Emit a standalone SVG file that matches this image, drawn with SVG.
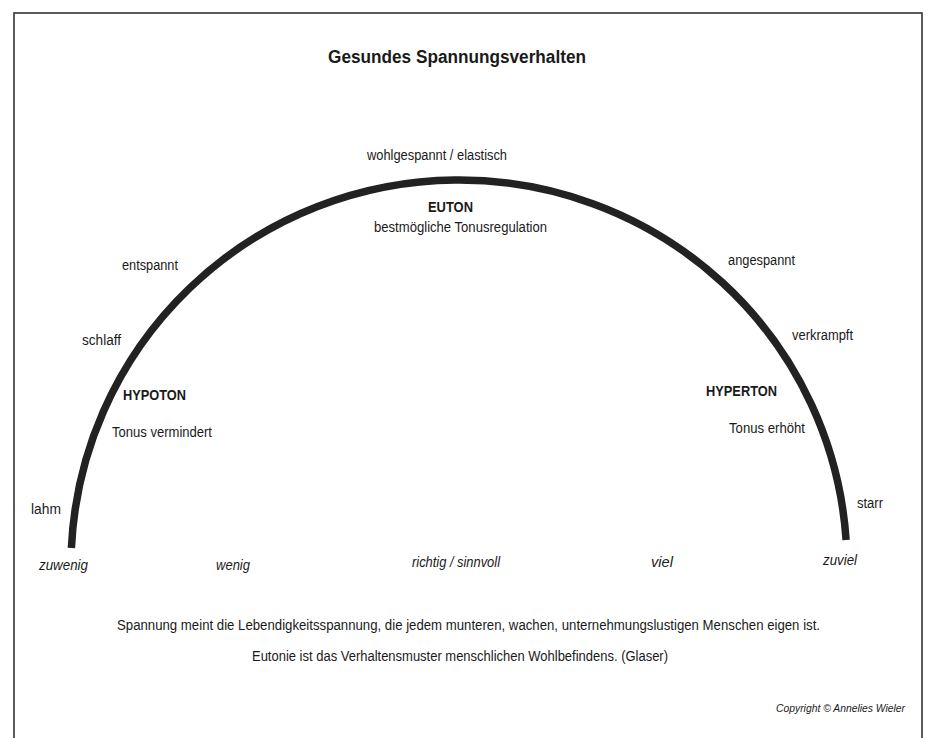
<svg xmlns="http://www.w3.org/2000/svg" width="928" height="738" viewBox="0 0 928 738">
  <style>
    text { font-family: "Liberation Sans", Arial, sans-serif; fill: #1a1a1a; }
    .lbl { font-size: 14px; }
    .b { font-size: 14px; font-weight: bold; }
    .it { font-size: 14px; font-style: italic; }
    .title { font-size: 18px; font-weight: bold; }
    .copy { font-size: 10px; font-style: italic; }
  </style>
  <rect width="928" height="738" fill="#ffffff"/>
  <rect id="frame" x="14" y="13" width="908" height="740" fill="none" stroke="#333333" stroke-width="1.6"/>
  <g id="title"><text class="title" x="328" y="63" textLength="258" lengthAdjust="spacingAndGlyphs">Gesundes Spannungsverhalten</text></g>
  <g id="connectors">
    <path id="arc" d="M 71.4 548 A 388 386 0 0 1 846.1 540" fill="none" stroke="#222222" stroke-width="7.5"/>
  </g>
  <g id="euton">
    <text class="lbl" x="367" y="160" textLength="140" lengthAdjust="spacingAndGlyphs">wohlgespannt / elastisch</text>
    <text class="b" x="428" y="212" textLength="45" lengthAdjust="spacingAndGlyphs">EUTON</text>
    <text class="lbl" x="374" y="232" textLength="173" lengthAdjust="spacingAndGlyphs">bestmögliche Tonusregulation</text>
  </g>
  <g id="hypoton">
    <text class="lbl" x="122" y="270" textLength="56" lengthAdjust="spacingAndGlyphs">entspannt</text>
    <text class="lbl" x="82" y="345" textLength="39" lengthAdjust="spacingAndGlyphs">schlaff</text>
    <text class="b" x="123" y="400" textLength="63" lengthAdjust="spacingAndGlyphs">HYPOTON</text>
    <text class="lbl" x="112" y="437" textLength="100" lengthAdjust="spacingAndGlyphs">Tonus vermindert</text>
    <text class="lbl" x="31" y="514" textLength="30" lengthAdjust="spacingAndGlyphs">lahm</text>
  </g>
  <g id="hyperton">
    <text class="lbl" x="728" y="265" textLength="67" lengthAdjust="spacingAndGlyphs">angespannt</text>
    <text class="lbl" x="792" y="340" textLength="61" lengthAdjust="spacingAndGlyphs">verkrampft</text>
    <text class="b" x="706" y="396" textLength="71" lengthAdjust="spacingAndGlyphs">HYPERTON</text>
    <text class="lbl" x="729" y="433" textLength="76" lengthAdjust="spacingAndGlyphs">Tonus erhöht</text>
    <text class="lbl" x="857" y="508" textLength="26" lengthAdjust="spacingAndGlyphs">starr</text>
  </g>
  <g id="scale">
    <text class="it" x="39" y="570" textLength="49" lengthAdjust="spacingAndGlyphs">zuwenig</text>
    <text class="it" x="216" y="570" textLength="34" lengthAdjust="spacingAndGlyphs">wenig</text>
    <text class="it" x="412" y="567" textLength="88" lengthAdjust="spacingAndGlyphs">richtig / sinnvoll</text>
    <text class="it" x="651" y="567" textLength="22" lengthAdjust="spacingAndGlyphs">viel</text>
    <text class="it" x="823" y="565" textLength="34" lengthAdjust="spacingAndGlyphs">zuviel</text>
  </g>
  <g id="notes">
    <text class="lbl" x="117" y="630" textLength="703" lengthAdjust="spacingAndGlyphs">Spannung meint die Lebendigkeitsspannung, die jedem munteren, wachen, unternehmungslustigen Menschen eigen ist.</text>
    <text class="lbl" x="252" y="661" textLength="416" lengthAdjust="spacingAndGlyphs">Eutonie ist das Verhaltensmuster menschlichen Wohlbefindens. (Glaser)</text>
    <text class="copy" x="776" y="712" textLength="129" lengthAdjust="spacingAndGlyphs">Copyright © Annelies Wieler</text>
  </g>
</svg>
